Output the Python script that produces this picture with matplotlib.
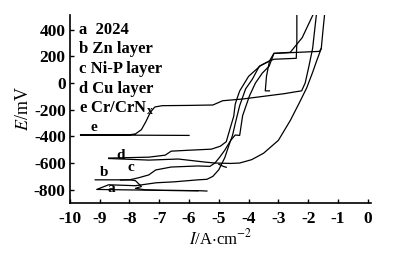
import matplotlib.pyplot as plt

plt.rcParams['font.family'] = ['Liberation Serif', 'DejaVu Serif']
plt.rcParams['mathtext.fontset'] = 'stix'
plt.rcParams['axes.unicode_minus'] = False

# polarization curves (log I, E in mV)
a_x = [-5.7, -6.5, -7.5, -8.5, -9.1, -8.7, -7.8, -7.1, -6.5, -5.7, -5.4, -5.2, -5.0, -4.8,
       -4.65, -4.54, -4.44, -4.3, -4.1, -3.87, -3.64, -3.3, -3.15, -2.4, -2.38, -2.38]
a_y = [-808, -806, -803, -800, -798, -763, -770, -748, -741, -726, -722, -700, -650, -560,
       -460, -393, -296, -170, -44, 30, 126, 165, 178, 185, 300, 520]

b_x = [-9.15, -8.6, -8.0, -7.8, -7.6, -7.8, -7.5, -6.9, -6.2, -5.6, -5.4]
b_y = [-726, -726, -726, -732, -776, -790, -800, -805, -806, -808, -810]

c_x = [-8.3, -8.0, -7.7, -7.35, -7.12, -6.6, -5.7, -5.3, -5.13, -4.97, -4.8, -4.6, -4.45,
       -4.3, -4.2, -3.97, -3.77, -3.54, -3.31, -3.15, -2.6, -2.2, -1.82]
c_y = [-728, -726, -711, -689, -652, -630, -622, -625, -600, -556, -504, -430, -390,
       -393, -244, -96, 0, 74, 126, 222, 230, 340, 520]

d1_x = [-8.7, -7.35, -6.8, -6.6, -6.0, -5.25, -4.95, -4.75, -4.62, -4.5, -4.45, -4.38,
        -4.3, -4.0, -3.6, -3.3, -3.15, -1.62, -1.56]
d1_y = [-563, -556, -541, -511, -504, -496, -474, -440, -340, -250, -160, -111,
        -60, 50, 130, 165, 222, 237, 259]
d2_x = [-8.7, -7.35, -6.36, -5.46, -5.13, -4.6, -4.3, -3.9, -3.5, -3.0, -2.6, -2.3,
        -2.05, -1.85, -1.72, -1.56, -1.5, -1.45]
d2_y = [-566, -578, -570, -593, -600, -603, -600, -575, -527, -430, -281, -150,
        -37, 80, 163, 259, 400, 510]
d3_x = [-5.0, -4.85, -4.75]
d3_y = [-610, -625, -632]
d4_x = [-3.3, -3.4, -3.44, -3.3]
d4_y = [163, 50, -59, -59]

e_x = [-6.0, -7.0, -8.0, -9.0, -9.65, -9.0, -8.0, -7.8, -7.6, -7.45, -7.3, -7.15, -6.9,
       -6.0, -5.2, -4.87, -4.2, -3.5, -2.8, -2.4, -2.22, -2.1, -1.98, -1.85, -1.72]
e_y = [-393, -392, -391, -390, -390, -389, -388, -382, -350, -290, -220, -180, -170,
       -168, -165, -133, -120, -100, -80, -65, -59, 0, 120, 260, 520]

legend_lines = ['a  2024', 'b Zn layer', 'c Ni-P layer', 'd Cu layer', 'e Cr/CrN$_\\mathregular{x}$']
curve_tags = ['a', 'b', 'c', 'd', 'e']
tag_x = [-8.6, -8.85, -7.95, -8.3, -9.2]
tag_y = [-792, -668, -630, -545, -330]

fig = plt.figure(figsize=(3.95, 2.58), dpi=100)
ax = fig.add_axes([0.177, 0.213, 0.763, 0.729])

for xs, ys in [(a_x, a_y), (b_x, b_y), (c_x, c_y), (d1_x, d1_y), (d2_x, d2_y),
               (d3_x, d3_y), (d4_x, d4_y), (e_x, e_y)]:
    ax.plot(xs, ys, color='black', lw=0.9)

ax.set_xlim(-10.0, 0.12)
ax.set_ylim(-900, 510)
ax.set_xticks(range(-10, 1))
ax.set_yticks(range(-800, 401, 200))
ax.spines['top'].set_visible(False)
ax.spines['right'].set_visible(False)
for s in ['left', 'bottom']:
    ax.spines[s].set_linewidth(1.2)
ax.tick_params(direction='in', length=3, width=1, labelsize=12.5)
ax.tick_params(axis='x', pad=6)
ax.tick_params(axis='y', pad=3)
for lab in ax.get_xticklabels() + ax.get_yticklabels():
    lab.set_fontweight('bold')

ax.set_xlabel('$\\mathit{I}$/A$\\cdot$cm$^{-2}$', fontsize=12, labelpad=1)
ax.set_ylabel('$\\mathit{E}$/mV', fontsize=13, labelpad=1)

for i, t in enumerate(legend_lines):
    ax.text(-9.7, 400 - i * 148, t, fontsize=12, va='center', ha='left', fontweight='bold')

for t, x, y in zip(curve_tags, tag_x, tag_y):
    ax.text(x, y, t, fontsize=11, ha='center', va='center', fontweight='bold')

fig.savefig('out.png', dpi=100)
